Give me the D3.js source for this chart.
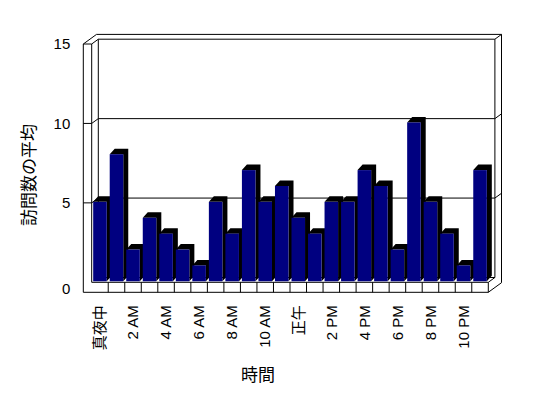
<!DOCTYPE html>
<html>
<head>
<meta charset="utf-8">
<script src="https://cdn.jsdelivr.net/npm/d3@7"></script>
<style>
  body { margin: 0; background: #fff; }
  text { font-family: "Liberation Sans", "Noto Sans CJK JP", sans-serif; fill: #000; }
</style>
</head>
<body>
<div id="chart"></div>
<script>
// average visits per hour of day, 3D column look
const hours = ["真夜中", "1 AM", "2 AM", "3 AM", "4 AM", "5 AM", "6 AM", "7 AM", "8 AM", "9 AM", "10 AM", "11 AM",
  "正午", "1 PM", "2 PM", "3 PM", "4 PM", "5 PM", "6 PM", "7 PM", "8 PM", "9 PM", "10 PM", "11 PM"];
const visits = [5, 8, 2, 4, 3, 2, 1, 5, 3, 7, 5, 6, 4, 3, 5, 5, 7, 6, 2, 10, 5, 3, 1, 7];
const yTicks = [0, 5, 10, 15];
const labelHours = hours.filter((d, i) => i % 2 === 0);
const yTitle = "訪問数の平均";
const xTitle = "時間";

const W = 548, H = 398;
const pLeft = 91.7, pRight = 488.3, pTop = 44, floorY = 282.3;
const wallW = 8.4, floorH = 10;           // slab thickness at the front
const dep = { x: 6.6, y: -4.8 };           // depth of the plot box
const bar = { x: 5, y: -5.5 };             // depth of each column

const svg = d3.select('#chart')
  .append('svg')
  .attr('width', W)
  .attr('height', H);

const x = d3.scaleBand()
  .domain(hours)
  .range([pLeft, pRight])
  .paddingInner(0.18)
  .paddingOuter(0.09);

const y = d3.scaleLinear()
  .domain([0, 15])
  .range([floorY, pTop]);

const x0 = pLeft - wallW, yB = floorY + floorH;
const path = (d) => svg.append('path')
  .attr('d', d)
  .attr('fill', 'none')
  .attr('stroke', '#000')
  .attr('stroke-width', 1);

// gridlines running over the left wall, back wall and right edge
svg.selectAll('.grid')
  .data(yTicks.filter(v => v > 0 && v < 15))
  .enter()
  .append('path')
  .attr('class', 'grid')
  .attr('fill', 'none')
  .attr('stroke', '#000')
  .attr('d', v => `M${x0},${y(v)}H${pLeft}L${pLeft + dep.x},${y(v) + dep.y}H${pRight + dep.x}L${pRight + 2 * dep.x},${y(v) + 2 * dep.y}`);

// back wall and inner faces
path(`M${pLeft},${pTop}L${pLeft + dep.x},${pTop + dep.y}H${pRight + dep.x}V${floorY + dep.y}L${pRight},${floorY}`);
path(`M${pLeft + dep.x},${pTop + dep.y}V${floorY + dep.y}H${pRight + dep.x}`);
path(`M${pRight + dep.x},${pTop + dep.y}L${pRight + 2 * dep.x},${pTop + 2 * dep.y}`);
// outer slab edges
path(`M${x0},${pTop}L${x0 + 2 * dep.x},${pTop + 2 * dep.y}H${pRight + 2 * dep.x}V${yB + 2 * dep.y}L${pRight},${yB}`);
// front faces of left wall and floor
path(`M${x0},${pTop}H${pLeft}V${floorY}H${pRight}V${yB}H${x0}Z`);

// columns
const cols = svg.selectAll('.col')
  .data(visits)
  .enter()
  .append('g')
  .attr('class', 'col');

const bx = (d, i) => x(hours[i]);
const bw = x.bandwidth();
const lift = 1;

cols.append('path')
  .attr('fill', '#000')
  .attr('d', (d, i) => {
    const xl = bx(d, i), xr = xl + bw, yt = y(d) - lift, yb = floorY - lift;
    return `M${xl},${yt}L${xl + bar.x},${yt + bar.y}H${xr + bar.x}V${yb + bar.y}L${xr},${yb}V${yt}Z`;
  });

cols.append('rect')
  .attr('fill', '#000080')
  .attr('x', bx)
  .attr('width', bw)
  .attr('y', d => y(d) - lift)
  .attr('height', d => floorY - y(d));

// category separators on the floor front
svg.selectAll('.sep')
  .data(d3.range(1, hours.length))
  .enter()
  .append('line')
  .attr('class', 'sep')
  .attr('stroke', '#000')
  .attr('x1', i => pLeft + i * x.step())
  .attr('x2', i => pLeft + i * x.step())
  .attr('y1', floorY)
  .attr('y2', yB);

// Y axis labels
const yAxis = svg.append('g')
  .attr('transform', `translate(${x0},0)`)
  .call(d3.axisLeft(y).tickValues(yTicks).tickSize(0).tickPadding(13));
yAxis.select('.domain').remove();
yAxis.selectAll('text')
  .attr('font-size', 15)
  .attr('font-family', null)
  .attr('y', d => d === 0 ? 6 : 0);

// X axis labels
const xAxis = svg.append('g')
  .attr('transform', `translate(0,${yB})`)
  .call(d3.axisBottom(x).tickValues(labelHours).tickSize(0));
xAxis.select('.domain').remove();
xAxis.selectAll('text')
  .attr('font-size', 15)
  .attr('font-family', null)
  .attr('transform', 'rotate(-90)')
  .attr('text-anchor', 'end')
  .attr('x', -13)
  .attr('y', 0)
  .attr('dy', '0.35em');

// axis titles
svg.append('text')
  .attr('transform', 'translate(29,175) rotate(-90)')
  .attr('text-anchor', 'middle')
  .attr('dy', '0.35em')
  .attr('font-size', 17)
  .text(yTitle);

svg.append('text')
  .attr('x', 258)
  .attr('y', 381)
  .attr('text-anchor', 'middle')
  .attr('font-size', 17)
  .text(xTitle);
</script>
</body>
</html>
